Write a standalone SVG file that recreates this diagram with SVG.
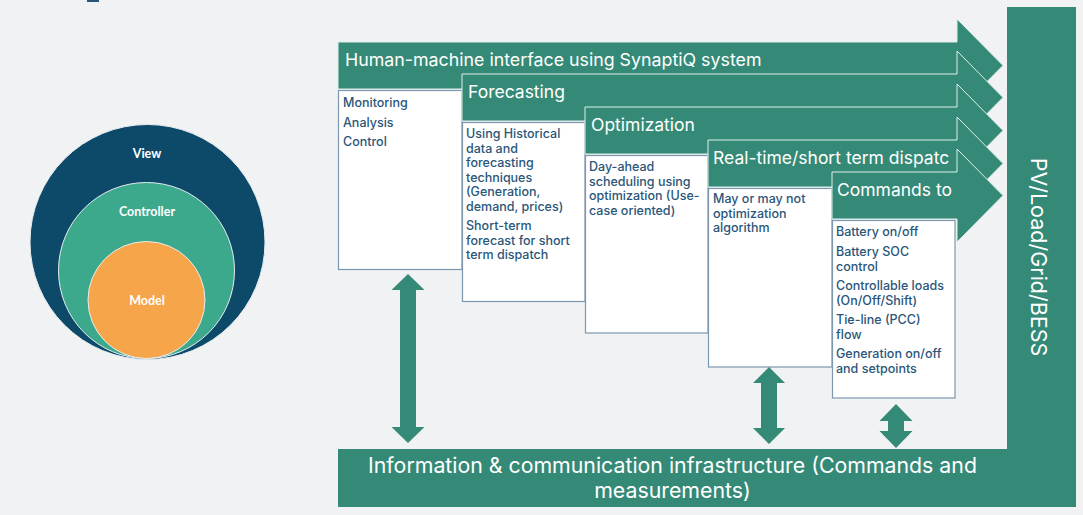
<svg xmlns="http://www.w3.org/2000/svg" width="1083" height="515" viewBox="0 0 1083 515">
<style>
.bg{fill:#f0f2f4}
.teal{fill:#358a77;stroke:#dfeeea;stroke-width:1}
.box{fill:#ffffff;stroke:#7d97ae;stroke-width:1.2}
.lbl{font-family:Inter,"Liberation Sans",sans-serif;font-size:17.5px;fill:#ffffff}
.txt{font-family:Inter,"Liberation Sans",sans-serif;font-size:12.5px;font-weight:500;fill:#2a5679}
.circ{font-family:Lato,"Open Sans",sans-serif;font-size:12.5px;font-weight:bold;fill:#ffffff;text-anchor:middle}
.dbl{fill:#358a77}
</style>
<rect class="bg" x="0" y="0" width="1083" height="515"/>
<rect x="87" y="0" width="12" height="2" fill="#2a5679"/>

<g id="mvc">
<circle cx="147.5" cy="242" r="117.5" fill="#0d4a69" stroke="#e6edf0" stroke-width="1"/>
<circle cx="146.5" cy="270.5" r="88" fill="#3ca88c" stroke="#e6edf0" stroke-width="1"/>
<circle cx="146.5" cy="300" r="58.5" fill="#f6a54b" stroke="#e6edf0" stroke-width="1"/>
<text class="circ" x="147" y="158">View</text>
<text class="circ" x="147" y="216">Controller</text>
<text class="circ" x="147" y="305">Model</text>
</g>

<g id="hmi">
<polygon class="teal" points="338,42 957,42 957,19 1003,65.5 957,112 957,89 338,89"/>
<text class="lbl" style="font-size:17.8px" x="345" y="66">Human-machine interface using SynaptiQ system</text>
<rect class="box" x="338.5" y="90.5" width="123.5" height="179"/>
<text class="txt" x="343" y="107">Monitoring</text>
<text class="txt" x="343" y="127">Analysis</text>
<text class="txt" x="343" y="146">Control</text>
</g>

<g id="forecasting">
<polygon class="teal" points="462,74 957,74 957,51 1003,97.5 957,144 957,121 462,121"/>
<text class="lbl" x="468" y="98">Forecasting</text>
<rect class="box" x="462.5" y="122.5" width="122.5" height="179"/>
<text class="txt" x="466" y="138">Using Historical</text>
<text class="txt" x="466" y="152.5">data and</text>
<text class="txt" x="466" y="167">forecasting</text>
<text class="txt" x="466" y="181.5">techniques</text>
<text class="txt" x="466" y="196">(Generation,</text>
<text class="txt" x="466" y="210.5">demand, prices)</text>
<text class="txt" x="466" y="230">Short-term</text>
<text class="txt" x="466" y="244.5">forecast for short</text>
<text class="txt" x="466" y="259">term dispatch</text>
</g>

<g id="optimization">
<polygon class="teal" points="585,107 957,107 957,84 1003,130.5 957,177 957,154 585,154"/>
<text class="lbl" x="591" y="131">Optimization</text>
<rect class="box" x="585.5" y="155.5" width="122.5" height="177.5"/>
<text class="txt" x="589" y="171">Day-ahead</text>
<text class="txt" x="589" y="185.5">scheduling using</text>
<text class="txt" x="589" y="200">optimization (Use-</text>
<text class="txt" x="589" y="214.5">case oriented)</text>
</g>

<g id="realtime">
<polygon class="teal" points="708,140 957,140 957,117 1003,163.5 957,210 957,187 708,187"/>
<text class="lbl" x="713" y="164">Real-time/short term dispatc</text>
<rect class="box" x="708.5" y="188.5" width="123.5" height="178.5"/>
<text class="txt" x="713" y="203">May or may not</text>
<text class="txt" x="713" y="217.5">optimization</text>
<text class="txt" x="713" y="232">algorithm</text>
</g>

<g id="commands">
<polygon class="teal" points="832,172 957,172 957,149 1003,195.5 957,242 957,219 832,219"/>
<text class="lbl" x="837" y="196">Commands to</text>
<rect class="box" x="832.5" y="220.5" width="122.5" height="177.5"/>
<text class="txt" x="836" y="236">Battery on/off</text>
<text class="txt" x="836" y="256">Battery SOC</text>
<text class="txt" x="836" y="270.5">control</text>
<text class="txt" x="836" y="290">Controllable loads</text>
<text class="txt" x="836" y="304.5">(On/Off/Shift)</text>
<text class="txt" x="836" y="324">Tie-line (PCC)</text>
<text class="txt" x="836" y="338.5">flow</text>
<text class="txt" x="836" y="358">Generation on/off</text>
<text class="txt" x="836" y="372.5">and setpoints</text>
</g>

<g id="pv-load-grid-bess">
<rect x="1007" y="7" width="69" height="500" fill="#358a77"/>
<text class="lbl" style="font-size:21.5px" text-anchor="middle" transform="translate(1031,257) rotate(90)">PV/Load/Grid/BESS</text>
</g>

<g id="ict">
<rect x="338" y="449" width="669" height="58" fill="#358a77"/>
<text class="lbl" style="font-size:21.3px" text-anchor="middle" x="672.5" y="473">Information &amp; communication infrastructure (Commands and</text>
<text class="lbl" style="font-size:21.3px" text-anchor="middle" x="672.5" y="498">measurements)</text>
</g>

<g id="connectors">
<polygon class="dbl" points="408,274 424.5,290 416,290 416,427 424.5,427 408,443 391.5,427 400,427 400,290 391.5,290"/>
<polygon class="dbl" points="769,367 785,383 777,383 777,428 785,428 769,444 753,428 761,428 761,383 753,383"/>
<polygon class="dbl" points="896,404 912.5,421 904,421 904,431 912.5,431 896,448 879.5,431 888,431 888,421 879.5,421"/>
</g>
</svg>
